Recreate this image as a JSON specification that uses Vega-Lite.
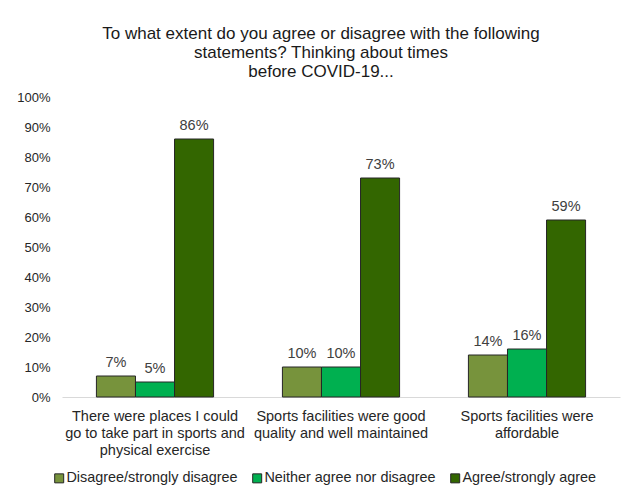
{
  "$schema": "https://vega.github.io/schema/vega-lite/v6.json",
  "width": 558,
  "height": 300,
  "autosize": {"type": "none"},
  "padding": {"left": 62, "top": 97, "right": 6, "bottom": 94},
  "background": "white",
  "config": {
    "view": {"stroke": null},
    "font": "Liberation Sans"
  },
  "title": {
    "text": ["To what extent do you agree or disagree with the following", "statements? Thinking about times", "before COVID-19..."],
    "anchor": "middle",
    "frame": "group",
    "dx": -20,
    "offset": 10,
    "fontSize": 17,
    "fontWeight": "normal",
    "lineHeight": 19,
    "color": "#1a1a1a",
    "font": "Liberation Sans"
  },
  "data": {
    "values": [
      {"statement": "There were places I could|go to take part in sports and|physical exercise", "response": "Disagree/strongly disagree", "value": 7},
      {"statement": "There were places I could|go to take part in sports and|physical exercise", "response": "Neither agree nor disagree", "value": 5},
      {"statement": "There were places I could|go to take part in sports and|physical exercise", "response": "Agree/strongly agree", "value": 86},
      {"statement": "Sports facilities were good|quality and well maintained", "response": "Disagree/strongly disagree", "value": 10},
      {"statement": "Sports facilities were good|quality and well maintained", "response": "Neither agree nor disagree", "value": 10},
      {"statement": "Sports facilities were good|quality and well maintained", "response": "Agree/strongly agree", "value": 73},
      {"statement": "Sports facilities were|affordable", "response": "Disagree/strongly disagree", "value": 14},
      {"statement": "Sports facilities were|affordable", "response": "Neither agree nor disagree", "value": 16},
      {"statement": "Sports facilities were|affordable", "response": "Agree/strongly agree", "value": 59}
    ]
  },
  "encoding": {
    "x": {
      "field": "statement",
      "type": "nominal",
      "sort": ["There were places I could|go to take part in sports and|physical exercise", "Sports facilities were good|quality and well maintained", "Sports facilities were|affordable"],
      "scale": {"paddingInner": 0.37, "paddingOuter": 0.185},
      "axis": {
        "title": null,
        "labelAngle": 0,
        "labelExpr": "split(datum.value, '|')",
        "labelFontSize": 14.5,
        "labelLineHeight": 17,
        "labelColor": "#262626",
        "labelPadding": 12,
        "ticks": false,
        "tickSize": 0,
        "domainColor": "#d9d9d9",
        "domainWidth": 1,
        "labelFont": "Liberation Sans"
      }
    },
    "xOffset": {
      "field": "response",
      "type": "nominal",
      "sort": ["Disagree/strongly disagree", "Neither agree nor disagree", "Agree/strongly agree"],
      "scale": {"paddingInner": 0, "paddingOuter": 0}
    },
    "y": {
      "field": "value",
      "type": "quantitative",
      "scale": {"domain": [0, 100]},
      "axis": {
        "title": null,
        "values": [0, 10, 20, 30, 40, 50, 60, 70, 80, 90, 100],
        "labelExpr": "datum.value + '%'",
        "labelFontSize": 13,
        "labelColor": "#262626",
        "labelPadding": 12,
        "ticks": false,
        "tickSize": 0,
        "domain": false,
        "grid": false,
        "labelFont": "Liberation Sans"
      }
    }
  },
  "layer": [
    {
      "mark": {"type": "bar", "stroke": "#262626", "strokeWidth": 1},
      "encoding": {
        "color": {
          "field": "response",
          "type": "nominal",
          "sort": ["Disagree/strongly disagree", "Neither agree nor disagree", "Agree/strongly agree"],
          "scale": {
            "domain": ["Disagree/strongly disagree", "Neither agree nor disagree", "Agree/strongly agree"],
            "range": ["#77933C", "#00B050", "#336600"]
          },
          "legend": {
            "title": null,
            "orient": "none",
            "direction": "horizontal",
            "legendX": -10,
            "legendY": 374,
            "symbolType": "square",
            "symbolSize": 81,
            "symbolStrokeColor": "#262626",
            "symbolStrokeWidth": 1,
            "labelFontSize": 14.4,
            "labelColor": "#262626",
            "labelOffset": 0,
            "columnPadding": 12,
            "labelFont": "Liberation Sans",
            "labelLimit": 300
          }
        }
      }
    },
    {
      "transform": [{"calculate": "datum.value + '%'", "as": "label"}],
      "mark": {"type": "text", "baseline": "bottom", "dy": -6, "fontSize": 14.5, "color": "#404040", "font": "Liberation Sans"},
      "encoding": {
        "text": {"field": "label", "type": "nominal"},
        "detail": {"field": "response"}
      }
    }
  ]
}
